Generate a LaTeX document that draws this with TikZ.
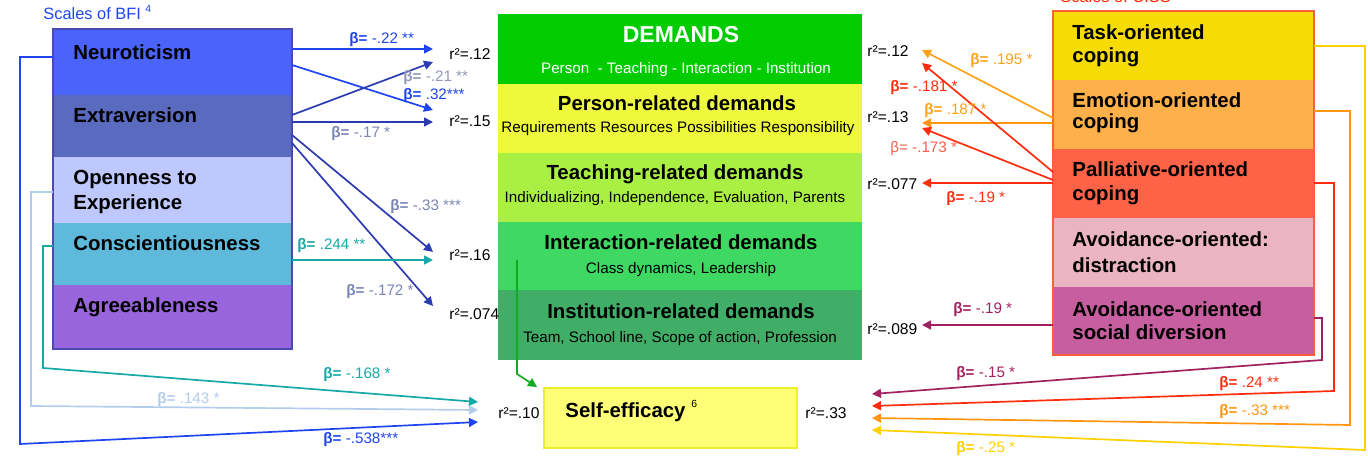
\documentclass[tikz,border=0pt]{standalone}
\usepackage{fontspec}
\setmainfont{Liberation Sans}
\usetikzlibrary{arrows.meta}
\definecolor{cNeu}{HTML}{4A63F8}
\definecolor{cExt}{HTML}{5A6ABF}
\definecolor{cOpe}{HTML}{BEC8FD}
\definecolor{cCon}{HTML}{5FB9DB}
\definecolor{cAgr}{HTML}{9865DD}
\definecolor{bfiB}{HTML}{4A4AB5}
\definecolor{cDem}{HTML}{00CC00}
\definecolor{cPer}{HTML}{EEF83C}
\definecolor{cTea}{HTML}{AAF044}
\definecolor{cInt}{HTML}{3ED862}
\definecolor{cIns}{HTML}{41AE68}
\definecolor{cSel}{HTML}{FFFF77}
\definecolor{selB}{HTML}{EEEE30}
\definecolor{cTas}{HTML}{F6DB05}
\definecolor{cEmo}{HTML}{FEB04B}
\definecolor{cPal}{HTML}{FF6347}
\definecolor{cDis}{HTML}{EBB4C3}
\definecolor{cSoc}{HTML}{C65E9F}
\definecolor{cissB}{HTML}{FF5E3A}
\definecolor{lBlue}{HTML}{1F45F0}
\definecolor{lNavy}{HTML}{2B3BB0}
\definecolor{lTeal}{HTML}{18A8A8}
\definecolor{lLight}{HTML}{B3CCEA}
\definecolor{labGrey}{HTML}{7A85B5}
\definecolor{labGreyL}{HTML}{9097B8}
\definecolor{lGreen}{HTML}{11AA22}
\definecolor{lOrTask}{HTML}{FFA21A}
\definecolor{lOrEmo}{HTML}{FF9511}
\definecolor{lRed}{HTML}{FF2C0E}
\definecolor{lRedL}{HTML}{F5604C}
\definecolor{lPurp}{HTML}{A2215F}
\definecolor{lYel}{HTML}{FFD000}
\definecolor{tCiss}{HTML}{FF2A00}
\newcommand\mksec[7][]{\node[sec,#1,fill=#7,minimum width={(#5-#3)*0.5pt},minimum height={(#6-#4)*0.5pt}] (#2) at (#3,#4) {};}
\newcommand\bb{{\bfseries β=}}
\newcommand\tinysup[1]{\raisebox{0.45em}{\mdseries\fontsize{5.2}{6}\selectfont #1}}
\begin{document}
\begin{tikzpicture}[x=0.5pt,y=-0.5pt,
  sec/.style={anchor=north west,inner sep=0pt,outer sep=0pt,draw=none},
  ttl/.style={anchor=base west,inner sep=0pt,font=\fontsize{10.2}{12}\selectfont\bfseries},
  ctl/.style={anchor=base,inner sep=0pt,font=\fontsize{10.2}{12}\selectfont\bfseries},
  sub/.style={anchor=base,inner sep=0pt,font=\fontsize{7.6}{9}\selectfont},
  rr/.style={anchor=base west,inner sep=0pt,font=\fontsize{7.8}{9}\selectfont},
  lab/.style={anchor=base west,inner sep=0pt,font=\fontsize{7.6}{9}\selectfont},
  conn/.style={line width=0.85pt,-{Triangle[length=4.5pt,width=4.5pt]}},
  fb/.style={line width=0.85pt,-{Triangle[length=4.5pt,width=4.5pt]}}]
\useasboundingbox (0,0) rectangle (1368,459);
% ---------- BFI boxes
\mksec{neu}{53}{29}{292}{95}{cNeu}
\mksec{ext}{53}{95}{292}{157}{cExt}
\mksec{ope}{53}{157}{292}{223}{cOpe}
\mksec{con}{53}{223}{292}{285}{cCon}
\mksec{agr}{53}{285}{292}{349}{cAgr}
\draw[bfiB,line width=0.6pt] (neu.north west) rectangle (agr.south east);
\node[anchor=base west,inner sep=0pt,text=lBlue,font=\fontsize{8.2}{10}\selectfont] (bfiT) at (43,20) {Scales of BFI \tinysup{4}};
\node[ttl] (tNeu) at (73,60) {Neuroticism};
\node[ttl] (tExt) at (73,123) {Extraversion};
\node[ttl] (tOpeA) at (73,185) {Openness to};
\node[ttl] (tOpeB) at (73,210) {Experience};
\node[ttl] (tCon) at (73,251) {Conscientiousness};
\node[ttl] (tAgr) at (73,313) {Agreeableness};
% ---------- Demands
\mksec{dem}{498}{14}{862}{84}{cDem}
\mksec{per}{498}{84}{862}{153}{cPer}
\mksec{tea}{498}{153}{862}{222}{cTea}
\mksec{int}{498}{222}{862}{290}{cInt}
\mksec{ins}{498}{290}{862}{360}{cIns}
\node[anchor=base,inner sep=0pt,text=white,font=\fontsize{11.5}{13}\selectfont\bfseries] (demT) at (681,43) {DEMANDS};
\node[sub,text=white] (demS) at (686,74) {Person\ \ - Teaching - Interaction - Institution};
\node[ctl] (perT) at (677,111) {Person-related demands};
\node[sub] (perS) at (678,133) {Requirements Resources Possibilities Responsibility};
\node[ctl] (teaT) at (675,180) {Teaching-related demands};
\node[sub] (teaS) at (675,203) {Individualizing, Independence, Evaluation, Parents};
\node[ctl] (intT) at (681,250) {Interaction-related demands};
\node[sub] (intS) at (681,274) {Class dynamics, Leadership};
\node[ctl] (insT) at (681,319) {Institution-related demands};
\node[sub] (insS) at (680,343) {Team, School line, Scope of action, Profession};
% ---------- Self-efficacy
\mksec[draw=selB,line width=0.6pt]{sel}{544}{388}{797}{448}{cSel}
\node[ttl] (selT) at (565,417) {Self-efficacy \tinysup{6}};
% ---------- CISS boxes
\mksec{tas}{1053}{11}{1314}{80}{cTas}
\mksec{emo}{1053}{80}{1314}{149}{cEmo}
\mksec{pal}{1053}{149}{1314}{218}{cPal}
\mksec{dis}{1053}{218}{1314}{287}{cDis}
\mksec{soc}{1053}{287}{1314}{355}{cSoc}
\draw[cissB,line width=0.7pt] (tas.north west) rectangle (soc.south east);
\node[anchor=base west,inner sep=0pt,text=tCiss,font=\fontsize{8.2}{10}\selectfont] (cissT) at (1060,3) {Scales of CISS};
\node[ttl] (tTasA) at (1072,40) {Task-oriented};
\node[ttl] (tTasB) at (1072,63) {coping};
\node[ttl] (tEmoA) at (1072,108) {Emotion-oriented};
\node[ttl] (tEmoB) at (1072,129) {coping};
\node[ttl] (tPalA) at (1072,177) {Palliative-oriented};
\node[ttl] (tPalB) at (1072,201) {coping};
\node[ttl] (tDisA) at (1072,247) {Avoidance-oriented:};
\node[ttl] (tDisB) at (1072,272) {distraction};
\node[ttl] (tSocA) at (1072,316) {Avoidance-oriented};
\node[ttl] (tSocB) at (1072,339) {social diversion};
% ---------- r2 labels
\node[rr] (rL1) at (449,60) {r²=.12};
\node[rr] (rL2) at (449,127) {r²=.15};
\node[rr] (rL3) at (449,261) {r²=.16};
\node[rr] (rL4) at (449,320) {r²=.074};
\node[rr] (rR1) at (867,57) {r²=.12};
\node[rr] (rR2) at (867,123) {r²=.13};
\node[rr] (rR3) at (867,190) {r²=.077};
\node[rr] (rR4) at (867,335) {r²=.089};
\node[rr] (rS1) at (498,418) {r²=.10};
\node[rr] (rS2) at (805,418) {r²=.33};
% ---------- coordinates
\coordinate (a1s) at (292,49);  \coordinate (a1t) at (433,49);
\coordinate (a2s) at (292,65);  \coordinate (a2t) at (433,110);
\coordinate (a3s) at (292,115); \coordinate (a3t) at (433,62);
\coordinate (a4s) at (292,122); \coordinate (a4t) at (433,122);
\coordinate (a5s) at (292,135); \coordinate (a5t) at (433,252);
\coordinate (a6s) at (292,143); \coordinate (a6t) at (433,306);
\coordinate (a7s) at (292,260); \coordinate (a7t) at (433,260);
\coordinate (f1s) at (53,57);  \coordinate (f1a) at (20,57);  \coordinate (f1b) at (20,444); \coordinate (f1t) at (478,422);
\coordinate (f2s) at (53,192); \coordinate (f2a) at (31,192); \coordinate (f2b) at (31,406); \coordinate (f2t) at (478,410);
\coordinate (f3s) at (53,246); \coordinate (f3a) at (43,246); \coordinate (f3b) at (43,368); \coordinate (f3t) at (478,402);
\coordinate (gs) at (517,260); \coordinate (ga) at (517,374); \coordinate (gt) at (537,387);
\coordinate (r1s) at (1053,118); \coordinate (r1t) at (922,50);
\coordinate (r2s) at (1053,123); \coordinate (r2t) at (922,123);
\coordinate (r3s) at (1053,172); \coordinate (r3t) at (922,63);
\coordinate (r4s) at (1053,180); \coordinate (r4t) at (922,128);
\coordinate (r5s) at (1053,183); \coordinate (r5t) at (922,183);
\coordinate (r6s) at (1053,325); \coordinate (r6t) at (922,325);
\coordinate (h1s) at (1314,46);  \coordinate (h1a) at (1365,46);  \coordinate (h1b) at (1365,450); \coordinate (h1t) at (872,430);
\coordinate (h2s) at (1314,111); \coordinate (h2a) at (1350,111); \coordinate (h2b) at (1350,425); \coordinate (h2t) at (872,418);
\coordinate (h3s) at (1314,183); \coordinate (h3a) at (1334,183); \coordinate (h3b) at (1334,391); \coordinate (h3t) at (872,406);
\coordinate (h4s) at (1314,318); \coordinate (h4a) at (1322,318); \coordinate (h4b) at (1322,360); \coordinate (h4t) at (872,394);
% ---------- left arrows
\draw[conn,lBlue] (a1s) -- (a1t);
\draw[conn,lBlue] (a2s) -- (a2t);
\draw[conn,lNavy] (a3s) -- (a3t);
\draw[conn,lNavy] (a4s) -- (a4t);
\draw[conn,lNavy] (a5s) -- (a5t);
\draw[conn,lNavy] (a6s) -- (a6t);
\draw[conn,lTeal] (a7s) -- (a7t);
\draw[fb,lBlue] (f1s) -- (f1a) -- (f1b) -- (f1t);
\draw[fb,lLight] (f2s) -- (f2a) -- (f2b) -- (f2t);
\draw[fb,lTeal] (f3s) -- (f3a) -- (f3b) -- (f3t);
\draw[fb,lGreen] (gs) -- (ga) -- (gt);
% ---------- right arrows
\draw[conn,lOrTask] (r1s) -- (r1t);
\draw[conn,lOrEmo] (r2s) -- (r2t);
\draw[conn,lRed] (r3s) -- (r3t);
\draw[conn,lRed] (r4s) -- (r4t);
\draw[conn,lRed] (r5s) -- (r5t);
\draw[conn,lPurp] (r6s) -- (r6t);
\draw[fb,lYel] (h1s) -- (h1a) -- (h1b) -- (h1t);
\draw[fb,lOrEmo] (h2s) -- (h2a) -- (h2b) -- (h2t);
\draw[fb,lRed] (h3s) -- (h3a) -- (h3b) -- (h3t);
\draw[fb,lPurp] (h4s) -- (h4a) -- (h4b) -- (h4t);
% ---------- labels
\node[lab,lBlue] (b1) at (349,44) {\bb{} -.22 **};
\node[lab,labGreyL] (b2) at (403,82) {\bb{} -.21 **};
\node[lab,lBlue] (b3) at (403,100) {\bb{} .32***};
\node[lab,labGrey] (b4) at (331,138) {\bb{} -.17 *};
\node[lab,labGrey] (b5) at (390,211) {\bb{} -.33 ***};
\node[lab,labGrey] (b6) at (346,295) {\bb{} -.172 *};
\node[lab,lTeal] (b7) at (297,250) {\bb{} .244 **};
\node[lab,lTeal] (b8) at (323,378) {\bb{} -.168 *};
\node[lab,lLight] (b9) at (157,403) {\bb{} .143 *};
\node[lab,lBlue] (b10) at (323,443) {\bb{} -.538***};
\node[lab,lOrTask] (c1) at (970,65) {\bb{} .195 *};
\node[lab,lRed] (c2) at (890,92) {\bb{} -.181 *};
\node[lab,lOrTask] (c3) at (924,115) {\bb{} .187 *};
\node[lab,lRedL] (c4) at (890,153) {β= -.173 *};
\node[lab,lRed] (c5) at (946,203) {\bb{} -.19 *};
\node[lab,lPurp] (c6) at (953,314) {\bb{} -.19 *};
\node[lab,lPurp] (c7) at (956,377) {\bb{} -.15 *};
\node[lab,lRed] (c8) at (1219,387) {\bb{} .24 **};
\node[lab,lOrEmo] (c9) at (1219,415) {\bb{} -.33 ***};
\node[lab,lYel] (c10) at (956,452) {\bb{} -.25 *};
\end{tikzpicture}
\end{document}
